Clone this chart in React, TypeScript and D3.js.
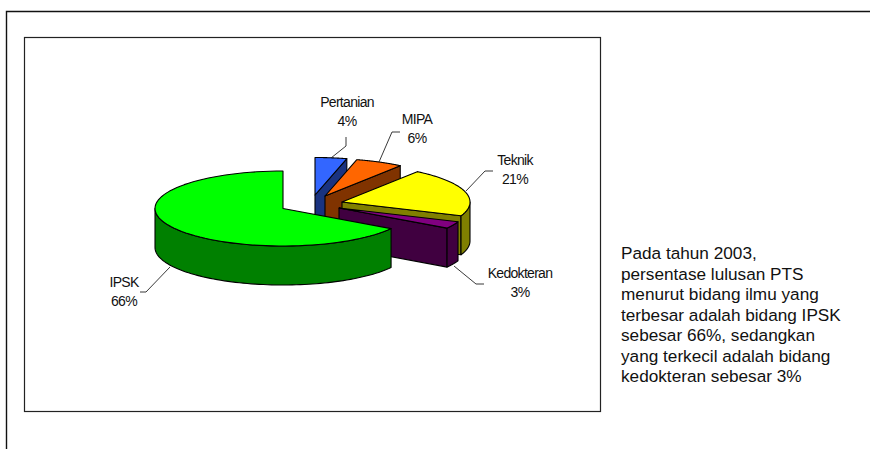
import React from "react";
import * as d3 from "d3";

const categories = ["Pertanian", "MIPA", "Teknik", "Kedokteran", "IPSK"];
const shares = [4, 6, 21, 3, 66];
const topColors = ["#3366FF", "#FF6600", "#FFFF00", "#800080", "#00FF00"];
const sideColors = ["#1A3380", "#803300", "#808000", "#400040", "#008000"];
const sliceCentres: [number, number][] = [[315, 195], [325, 196], [342, 202], [339, 208], [283, 208.5]];
const labelAnchors: [number, number][] = [[347, 107], [417, 124], [515, 165], [520, 278], [124, 287]];
const leaderPaths: [number, number][][] = [
  [[331, 158], [346, 146], [346, 137]],
  [[379, 162], [392, 132], [400, 132]],
  [[466, 191], [485, 171], [493, 171]],
  [[454, 266], [476, 284], [484, 284]],
  [[170, 267], [146, 292], [140, 292]],
];
const noteLines = [
  "Pada tahun 2003,",
  "persentase lulusan PTS",
  "menurut bidang ilmu yang",
  "terbesar adalah bidang IPSK",
  "sebesar 66%, sedangkan",
  "yang terkecil adalah bidang",
  "kedokteran sebesar 3%",
];

const W = 870, H = 449, RX = 128, RY = 37.5, DEPTH = 39;
const FONT = "'Liberation Sans', Arial, sans-serif";

const arcs = d3.pie<number>().sort(null).startAngle(0).endAngle(2 * Math.PI)(shares);
const rim = (c: [number, number], a: number): [number, number] => [c[0] + RX * Math.sin(a), c[1] - RY * Math.cos(a)];
const line = d3.line();
const sweep = (c: [number, number], a0: number, a1: number) =>
  d3.range(0, 81).map((i) => rim(c, d3.interpolateNumber(a0, a1)(i / 80)));
const drop = (p: [number, number]): [number, number] => [p[0], p[1] + DEPTH];

const STROKE = { stroke: "#000", strokeWidth: 1.1, strokeLinejoin: "round" as const };

export default function App() {
  return (
    <svg width={W} height={H} style={{ position: "fixed", left: 0, top: 0, background: "#fff" }}>
      <path d={`M6.5 ${H}V11.5H${W}`} fill="none" stroke="#111" strokeWidth={1.4} />
      <rect x={24.5} y={37.5} width={576} height={374} fill="#fff" stroke="#222" strokeWidth={1.2} />
      {arcs.map((d, i) => {
        const c = sliceCentres[i];
        const wallFrom = Math.max(d.startAngle, Math.PI / 2);
        const wallTo = Math.min(d.endAngle, (3 * Math.PI) / 2);
        const endPt = rim(c, d.endAngle);
        const cut = [c, endPt, drop(endPt), drop(c)] as [number, number][];
        const showCut = d.endAngle < Math.PI;
        const wallTop = sweep(c, wallFrom, wallTo);
        const wall = [...wallTop, ...wallTop.slice().reverse().map(drop)];
        const top = [c, ...sweep(c, d.startAngle, d.endAngle)];
        return (
          <g key={categories[i]}>
            {showCut && <path d={line(cut) + "Z"} fill={sideColors[i]} {...STROKE} />}
            {wallFrom < wallTo && <path d={line(wall) + "Z"} fill={sideColors[i]} {...STROKE} />}
            <path d={line(top) + "Z"} fill={topColors[i]} {...STROKE} />
          </g>
        );
      })}
      {leaderPaths.map((p, i) => (
        <path key={i} d={line(p) || ""} fill="none" stroke="#222" strokeWidth={0.9} />
      ))}
      {categories.map((name, i) => (
        <text key={name} x={labelAnchors[i][0]} y={labelAnchors[i][1]} textAnchor="middle"
          fontFamily={FONT} fontSize={14} letterSpacing={-0.7} fill="#111">
          <tspan x={labelAnchors[i][0]}>{name}</tspan>
          <tspan x={labelAnchors[i][0]} dy={19}>{shares[i]}%</tspan>
        </text>
      ))}
      {noteLines.map((t, i) => (
        <text key={t} x={621} y={259 + i * 20.5} fontFamily={FONT} fontSize={17.2} fill="#111">{t}</text>
      ))}
    </svg>
  );
}
